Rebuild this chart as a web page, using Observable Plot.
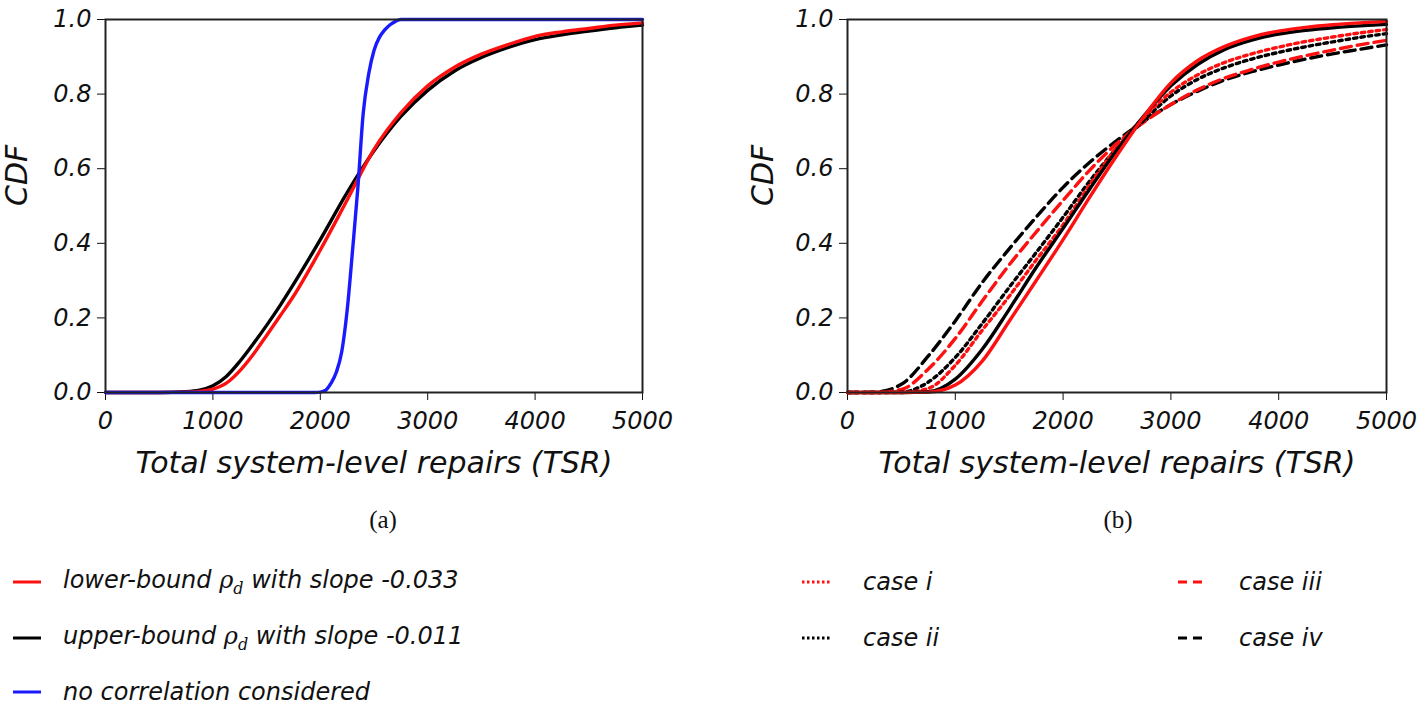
<!DOCTYPE html>
<html>
<head>
<meta charset="utf-8">
<script src="https://cdn.jsdelivr.net/npm/d3@7"></script>
<script src="https://cdn.jsdelivr.net/npm/@observablehq/plot@0.6"></script>
<style>
  html, body { margin: 0; padding: 0; background: #fff; }
  #root { position: relative; width: 1426px; height: 709px; overflow: hidden; background: #fff; }
  .panel { position: absolute; top: 0; }
  .cap { position: absolute; font-family: "Liberation Serif", "Times New Roman", serif; font-size: 25px; color: #111; transform: translate(-50%, -50%); }
  .leg { position: absolute; display: flex; align-items: center; height: 30px; font-family: "DejaVu Sans", sans-serif; font-style: italic; font-size: 24px; color: #111; white-space: nowrap; }
  .leg svg { display: block; }
  .rho { font-family: "DejaVu Serif", serif; font-style: italic; }
  .rho sub { font-size: 16px; vertical-align: -6px; }
</style>
</head>
<body>
<div id="root"></div>
<script>
// ---------- data ----------
const xTicks = [0, 1000, 2000, 3000, 4000, 5000];
const yTicks = [0, 0.2, 0.4, 0.6, 0.8, 1.0];
const xLabel = "Total system-level repairs (TSR)";
const yLabel = "CDF";

// Panel (a)
const aGrid = [0,250,500,750,875,1000,1125,1250,1375,1500,1625,1750,2000,2250,2500,2750,3000,3250,3500,3750,4000,4250,4500,4750,5000];
const aLowerBound = [0,0,0,0.001,0.003,0.009,0.025,0.058,0.102,0.153,0.205,0.258,0.382,0.516,0.652,0.75,0.822,0.872,0.907,0.933,0.955,0.967,0.976,0.985,0.991];
const aUpperBound = [0,0,0,0.002,0.006,0.018,0.043,0.083,0.13,0.18,0.233,0.29,0.41,0.536,0.648,0.74,0.81,0.862,0.898,0.925,0.946,0.959,0.969,0.978,0.985];
const blueGrid = [0,1950,2000,2050,2100,2150,2200,2250,2300,2350,2400,2450,2500,2550,2600,2650,2700,2750,5000];
const aNoCorrelation = [0,0,0.001,0.006,0.025,0.055,0.11,0.22,0.38,0.55,0.75,0.853,0.917,0.952,0.972,0.986,0.995,1.0,1.0];

// Panel (b)
const bGrid = [0,250,500,750,1000,1250,1500,1750,2000,2250,2500,2750,3000,3250,3500,3750,4000,4250,4500,4750,5000];
const bSolidRed   = [0,0,0,0.001,0.02,0.084,0.191,0.3,0.41,0.525,0.636,0.74,0.83,0.89,0.928,0.953,0.969,0.979,0.986,0.991,0.995];
const bSolidBlack = [0,0,0,0.002,0.036,0.116,0.223,0.335,0.44,0.547,0.65,0.742,0.822,0.88,0.92,0.945,0.961,0.971,0.978,0.983,0.987];
const bCaseI      = [0,0,0,0.011,0.073,0.167,0.258,0.355,0.45,0.558,0.658,0.738,0.805,0.852,0.885,0.908,0.926,0.941,0.953,0.964,0.973];
const bCaseII     = [0,0,0.001,0.028,0.094,0.185,0.282,0.375,0.47,0.568,0.656,0.73,0.795,0.84,0.871,0.894,0.912,0.927,0.94,0.952,0.962];
const bCaseIII    = [0,0,0.008,0.063,0.145,0.245,0.342,0.43,0.515,0.597,0.668,0.725,0.772,0.812,0.843,0.866,0.886,0.903,0.918,0.932,0.944];
const bCaseIV     = [0,0.001,0.022,0.098,0.192,0.295,0.385,0.47,0.55,0.618,0.676,0.727,0.772,0.808,0.838,0.86,0.878,0.894,0.908,0.92,0.932];

const legendA = [
  {label: "lower-bound", sub: true, tail: " with slope -0.033", color: "#ff1010"},
  {label: "upper-bound", sub: true, tail: " with slope -0.011", color: "#000000"},
  {label: "no correlation considered", sub: false, tail: "", color: "#1a1aff"}
];
const legendB = [
  {label: "case i", color: "#ff1010", dash: "2.5,2.5"},
  {label: "case ii", color: "#000000", dash: "2.5,2.5"},
  {label: "case iii", color: "#ff1010", dash: "9,6"},
  {label: "case iv", color: "#000000", dash: "9,6"}
];

// ---------- helpers ----------
const toPts = (xs, ys) => xs.map((x, i) => ({x, y: ys[i]}));
const RED = "#ff1010", BLACK = "#000000", BLUE = "#1a1aff";
const DOT = "3.5,4", DASH = "11,6";

function panel(series, opts) {
  return Plot.plot({
    width: opts.width, height: 490,
    marginLeft: opts.ml, marginRight: opts.mr, marginTop: 19, marginBottom: 98,
    style: {fontFamily: "DejaVu Sans, sans-serif", fontStyle: "italic", fontSize: "24px", color: "#111", background: "transparent", overflow: "visible"},
    x: {domain: [0, 5000], ticks: xTicks, tickFormat: d => String(d), label: null, tickSize: 8, tickPadding: 11},
    y: {domain: [0, 1], ticks: yTicks, tickFormat: d3.format(".1f"), label: null, tickSize: 8, tickPadding: 6},
    marks: [
      ...series.map(s => Plot.line(s.data, {x: "x", y: "y", stroke: s.color, strokeWidth: 3.4, strokeDasharray: s.dash || null, curve: "monotone-x"})),
      Plot.frame({stroke: "#222", strokeWidth: 2}),
      Plot.text([xLabel], {text: d => d, frameAnchor: "bottom", dy: 71, fontSize: 30, lineAnchor: "middle"}),
      Plot.text([yLabel], {text: d => d, frameAnchor: "left", dx: -opts.cdfOff, rotate: -90, fontSize: 30})
    ]
  });
}

const root = document.getElementById("root");

const plotA = panel([
  {data: toPts(aGrid, aUpperBound), color: BLACK},
  {data: toPts(aGrid, aLowerBound), color: RED},
  {data: toPts(blueGrid, aNoCorrelation), color: BLUE}
], {width: 700, ml: 105, mr: 58, cdfOff: 88});
plotA.classList.add("panel");
plotA.style.left = "0px";
root.appendChild(plotA);

const plotB = panel([
  {data: toPts(bGrid, bCaseIV), color: BLACK, dash: DASH},
  {data: toPts(bGrid, bCaseIII), color: RED, dash: DASH},
  {data: toPts(bGrid, bCaseII), color: BLACK, dash: DOT},
  {data: toPts(bGrid, bCaseI), color: RED, dash: DOT},
  {data: toPts(bGrid, bSolidBlack), color: BLACK},
  {data: toPts(bGrid, bSolidRed), color: RED}
], {width: 686, ml: 107, mr: 40, cdfOff: 84});
plotB.classList.add("panel");
plotB.style.left = "740px";
root.appendChild(plotB);

// captions
function cap(text, x, y) {
  const d = document.createElement("div");
  d.className = "cap"; d.textContent = text;
  d.style.left = x + "px"; d.style.top = y + "px";
  root.appendChild(d);
}
cap("(a)", 383, 520);
cap("(b)", 1118, 520);

// legends
function swatch(color, dash) {
  const ns = "http://www.w3.org/2000/svg";
  const s = document.createElementNS(ns, "svg");
  s.setAttribute("width", 30); s.setAttribute("height", 10);
  const l = document.createElementNS(ns, "line");
  l.setAttribute("x1", 0); l.setAttribute("x2", 28); l.setAttribute("y1", 5); l.setAttribute("y2", 5);
  l.setAttribute("stroke", color); l.setAttribute("stroke-width", 3);
  if (dash) l.setAttribute("stroke-dasharray", dash);
  s.appendChild(l);
  return s;
}
function legRow(item, x, y, gap) {
  const d = document.createElement("div");
  d.className = "leg";
  d.style.left = x + "px"; d.style.top = (y - 15) + "px";
  const sw = swatch(item.color, item.dash);
  sw.style.marginRight = gap + "px";
  d.appendChild(sw);
  const t = document.createElement("span");
  t.appendChild(document.createTextNode(item.label));
  if (item.sub) {
    const r = document.createElement("span");
    r.className = "rho";
    r.innerHTML = "\u00a0\u03c1<sub>d</sub>";
    t.appendChild(r);
  }
  if (item.tail) t.appendChild(document.createTextNode(item.tail));
  d.appendChild(t);
  root.appendChild(d);
}
const rowsY = [582, 638, 692];
legendA.forEach((it, i) => legRow(it, 13, rowsY[i], 20));
legRow(legendB[0], 802, rowsY[0], 31);
legRow(legendB[1], 802, rowsY[1], 31);
legRow(legendB[2], 1178, rowsY[0], 31);
legRow(legendB[3], 1178, rowsY[1], 31);
</script>
</body>
</html>
